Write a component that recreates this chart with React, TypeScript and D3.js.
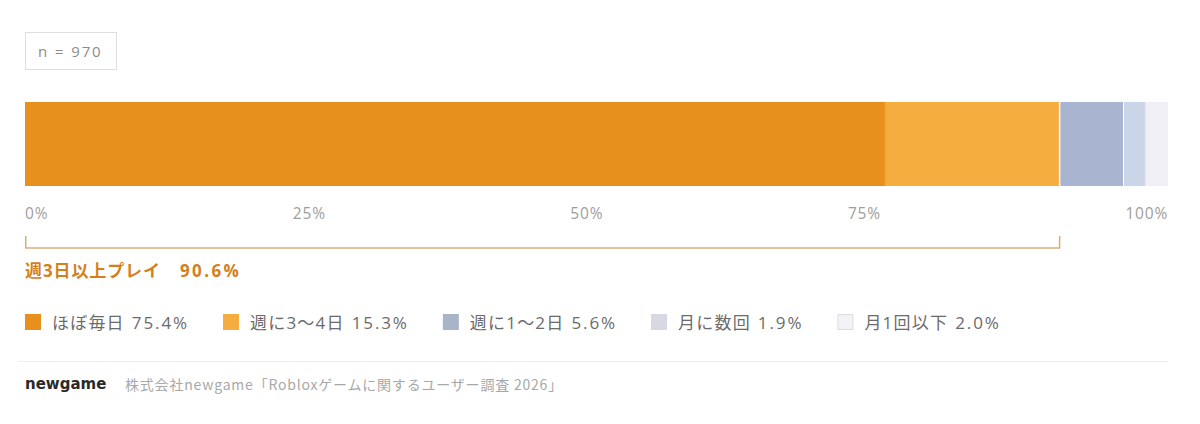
import * as d3 from "d3";
import { useEffect, useRef } from "react";

const categories = ["ほぼ毎日", "週に3〜4日", "週に1〜2日", "月に数回", "月1回以下"];
const values = [75.4, 15.3, 5.6, 1.9, 2.0];
const barColors = ["#e8901e", "#f5ad3f", "#a9b4d0", "#cbd5e8", "#f1eff6"];
const legendColors = ["#e8901e", "#f5ad3f", "#a8b4c8", "#d6d8e4", "#f3f2f6"];
const tickLabels = ["0%", "25%", "50%", "75%", "100%"];
const sampleSize = 970;
const highlightLabel = "週3日以上プレイ";
const highlightValue = 90.6;
const highlightCount = 2; // first two categories
const credit = "株式会社newgame「Robloxゲームに関するユーザー調査 2026」";

const FONT = "'Open Sans', 'Noto Sans CJK JP', sans-serif";

const Chart = ({ width = 1200, height = 424 }) => {
  const ref = useRef<SVGSVGElement>(null);

  useEffect(() => {
    if (!ref.current) return;
    const svg = d3.select(ref.current);
    svg.selectAll("*").remove();
    svg.style("font-family", FONT);

    const left = 25;
    const right = 1168;
    const barTop = 102;
    const barH = 84;

    const total = d3.sum(values);
    const x = d3.scaleLinear().domain([0, total]).range([left, right]);

    // n box
    const nText = svg
      .append("text")
      .attr("x", 38)
      .attr("y", 51)
      .attr("dominant-baseline", "central")
      .attr("font-size", 15)
      .attr("letter-spacing", "1.9px")
      .attr("fill", "#8c8c8c")
      .text(`n = ${sampleSize}`);
    const nw = (nText.node() as SVGTextElement).getComputedTextLength();
    svg
      .insert("rect", "text")
      .attr("x", left + 0.5)
      .attr("y", 32.5)
      .attr("width", Math.round(nw + 26))
      .attr("height", 37)
      .attr("fill", "#fff")
      .attr("stroke", "#dedede");

    // stacked bar
    const starts = d3.cumsum([0, ...values]);
    svg
      .append("g")
      .selectAll("rect")
      .data(values)
      .enter()
      .append("rect")
      .attr("x", (d, i) => x(starts[i]))
      .attr("y", barTop)
      .attr("width", (d) => x(d) - x(0))
      .attr("height", barH)
      .attr("fill", (d, i) => barColors[i]);

    // separators
    svg
      .append("g")
      .selectAll("line")
      .data(values.slice(0, -1))
      .enter()
      .append("line")
      .attr("x1", (d, i) => x(starts[i + 1]))
      .attr("x2", (d, i) => x(starts[i + 1]))
      .attr("y1", barTop)
      .attr("y2", barTop + barH)
      .attr("stroke", (d, i) => (i === 3 ? "#e2dfe6" : i === 0 ? "#f0a030" : "#ffffff"))
      .attr("stroke-width", (d, i) => (i === 1 ? 1.5 : 1));

    // tick labels, spread edge to edge
    const ticks = svg
      .append("g")
      .selectAll("text")
      .data(tickLabels)
      .enter()
      .append("text")
      .attr("y", 213)
      .attr("dominant-baseline", "central")
      .attr("font-size", 15.5)
      .attr("letter-spacing", "0.8px")
      .attr("fill", "#9e9e9e")
      .text((d) => d);
    const tw = ticks.nodes().map((n) => (n as SVGTextElement).getComputedTextLength());
    const gap = (right - left - d3.sum(tw)) / (tickLabels.length - 1);
    const tx = d3.cumsum([0, ...tw.map((w) => w + gap)]);
    ticks.attr("x", (d, i) => left + tx[i]);

    // bracket
    const bx2 = x(d3.sum(values.slice(0, highlightCount)));
    const bracket = d3.path();
    bracket.moveTo(left + 0.75, 236);
    bracket.lineTo(left + 0.75, 248);
    bracket.lineTo(bx2, 248);
    bracket.lineTo(bx2, 236);
    svg
      .append("path")
      .attr("d", bracket.toString())
      .attr("fill", "none")
      .attr("stroke", "#d9ae74")
      .attr("stroke-width", 1.5);

    const hl = svg
      .append("text")
      .attr("x", left)
      .attr("y", 270)
      .attr("dominant-baseline", "central")
      .attr("font-size", 17)
      .attr("font-weight", 700)
      .attr("fill", "#d4801c");
    hl.append("tspan").attr("letter-spacing", "0.9px").text(highlightLabel);
    hl.append("tspan")
      .attr("dx", 19)
      .attr("letter-spacing", "2.4px")
      .text(`${highlightValue.toFixed(1)}%`);

    // legend
    const legend = svg.append("g");
    let lx = left;
    categories.forEach((c, i) => {
      const g = legend.append("g").attr("transform", `translate(${lx},0)`);
      g.append("rect")
        .attr("x", i === 4 ? 0.5 : 0)
        .attr("y", i === 4 ? 314.5 : 314)
        .attr("width", i === 4 ? 15 : 16)
        .attr("height", i === 4 ? 15 : 16)
        .attr("fill", legendColors[i])
        .attr("stroke", i === 4 ? "#dcdcdc" : "none");
      const t = g
        .append("text")
        .attr("x", 27)
        .attr("y", 322)
        .attr("dominant-baseline", "central")
        .attr("font-size", 17)
        .attr("fill", "#6b6b6b");
      t.append("tspan").attr("letter-spacing", "1.2px").text(c);
      t.append("tspan")
        .attr("dx", 7)
        .attr("letter-spacing", "1.9px")
        .text(`${values[i].toFixed(1)}%`);
      const bb = (t.node() as SVGTextElement).getBBox();
      lx += 27 + bb.width + 34;
    });

    // divider
    svg
      .append("line")
      .attr("x1", 18)
      .attr("x2", right)
      .attr("y1", 361.5)
      .attr("y2", 361.5)
      .attr("stroke", "#eeeef2");

    // footer
    svg
      .append("text")
      .attr("x", left)
      .attr("y", 384)
      .attr("dominant-baseline", "central")
      .attr("font-family", "'DejaVu Sans', sans-serif")
      .attr("font-size", 15)
      .attr("font-weight", 700)
      .attr("fill", "#2a2a2a")
      .text("newgame");
    svg
      .append("text")
      .attr("x", 125)
      .attr("y", 384)
      .attr("dominant-baseline", "central")
      .attr("font-family", "'Noto Sans CJK JP', sans-serif")
      .attr("font-size", 14)
      .attr("letter-spacing", "0.8px")
      .attr("fill", "#a8a8a8")
      .text(credit);
  }, [width, height]);

  return <svg ref={ref} width={width} height={height} style={{ display: "block", background: "#fff" }} />;
};

export default function App() {
  useEffect(() => {
    document.body.style.margin = "0";
  }, []);
  return <Chart />;
}
